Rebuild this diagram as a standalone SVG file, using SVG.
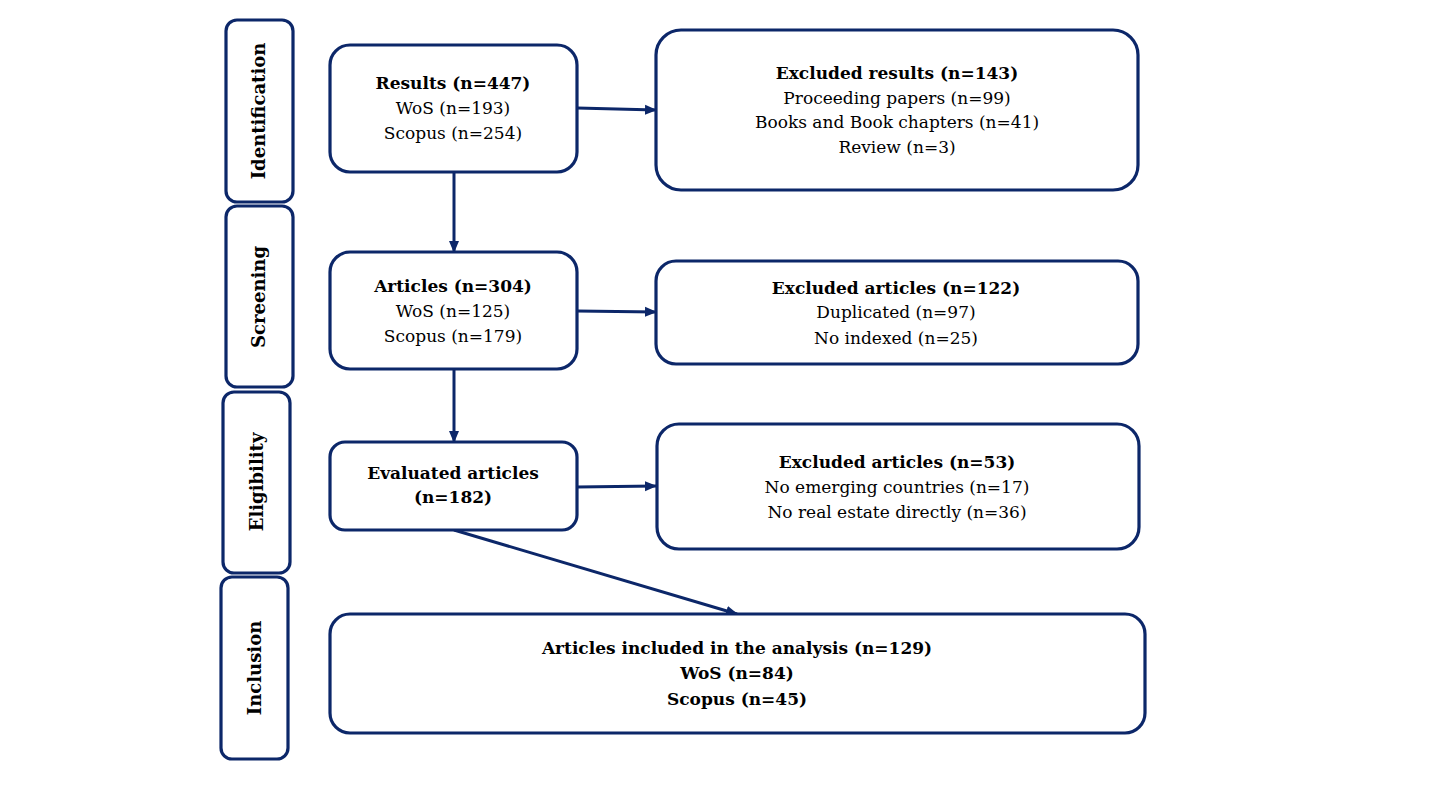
<svg xmlns="http://www.w3.org/2000/svg" width="1437" height="811" viewBox="0 0 1437 811">
<style>
.box{fill:#fff;stroke:#0c2769;stroke-width:3.2}
.t{font-family:"DejaVu Serif","Liberation Serif",serif;font-size:17px;fill:#000;text-anchor:middle}
.b{font-weight:bold}
.ph{font-family:"DejaVu Serif","Liberation Serif",serif;font-size:18px;font-weight:bold;fill:#000;text-anchor:middle}
.c{stroke:#0c2769;stroke-width:3;fill:none;marker-end:url(#ah)}
</style>
<defs>
<marker id="ah" markerUnits="userSpaceOnUse" markerWidth="12" markerHeight="12" viewBox="0 0 12 12" refX="11" refY="6" orient="auto">
<path d="M0,1 L12,6 L0,11 Z" fill="#0c2769"/>
</marker>
</defs>
<rect width="1437" height="811" fill="#fff"/>
<g id="phase-identification"><rect class="box" x="226" y="20" width="67" height="182" rx="11"/><text class="ph" transform="translate(265,111) rotate(-90)">Identification</text></g>
<g id="phase-screening"><rect class="box" x="226" y="206" width="67" height="181" rx="11"/><text class="ph" transform="translate(265,297) rotate(-90)">Screening</text></g>
<g id="phase-eligibility"><rect class="box" x="223" y="392" width="67" height="181" rx="11"/><text class="ph" transform="translate(263,482) rotate(-90)">Eligibility</text></g>
<g id="phase-inclusion"><rect class="box" x="221" y="577" width="67" height="182" rx="11"/><text class="ph" transform="translate(261,668) rotate(-90)">Inclusion</text></g>
<g id="connectors">
<line class="c" x1="577" y1="108" x2="656" y2="110"/>
<line class="c" x1="454" y1="172" x2="454" y2="252"/>
<line class="c" x1="577" y1="311" x2="656" y2="312"/>
<line class="c" x1="454" y1="369" x2="454" y2="442"/>
<line class="c" x1="577" y1="487" x2="656" y2="486"/>
<line class="c" x1="454" y1="530" x2="737" y2="614"/>
</g>
<g id="results"><rect class="box" x="330" y="45" width="247" height="127" rx="20"/>
<text class="t b" x="453" y="89">Results (n=447)</text>
<text class="t" x="453" y="114">WoS (n=193)</text>
<text class="t" x="453" y="139">Scopus (n=254)</text></g>
<g id="excluded-results"><rect class="box" x="656" y="30" width="482" height="160" rx="25"/>
<text class="t b" x="897" y="79">Excluded results (n=143)</text>
<text class="t" x="897" y="104">Proceeding papers (n=99)</text>
<text class="t" x="897" y="128">Books and Book chapters (n=41)</text>
<text class="t" x="897" y="153">Review (n=3)</text></g>
<g id="articles"><rect class="box" x="330" y="252" width="247" height="117" rx="20"/>
<text class="t b" x="453" y="292">Articles (n=304)</text>
<text class="t" x="453" y="317">WoS (n=125)</text>
<text class="t" x="453" y="342">Scopus (n=179)</text></g>
<g id="excluded-articles"><rect class="box" x="656" y="261" width="482" height="103" rx="20"/>
<text class="t b" x="896" y="294">Excluded articles (n=122)</text>
<text class="t" x="896" y="318">Duplicated (n=97)</text>
<text class="t" x="896" y="344">No indexed (n=25)</text></g>
<g id="evaluated"><rect class="box" x="330" y="442" width="247" height="88" rx="15"/>
<text class="t b" x="453" y="479">Evaluated articles</text>
<text class="t b" x="453" y="503">(n=182)</text></g>
<g id="excluded-eligibility"><rect class="box" x="657" y="424" width="482" height="125" rx="22"/>
<text class="t b" x="897" y="468">Excluded articles (n=53)</text>
<text class="t" x="897" y="493">No emerging countries (n=17)</text>
<text class="t" x="897" y="518">No real estate directly (n=36)</text></g>
<g id="included"><rect class="box" x="330" y="614" width="815" height="119" rx="20"/>
<text class="t b" x="737" y="654">Articles included in the analysis (n=129)</text>
<text class="t b" x="737" y="679">WoS (n=84)</text>
<text class="t b" x="737" y="705">Scopus (n=45)</text></g>
</svg>
